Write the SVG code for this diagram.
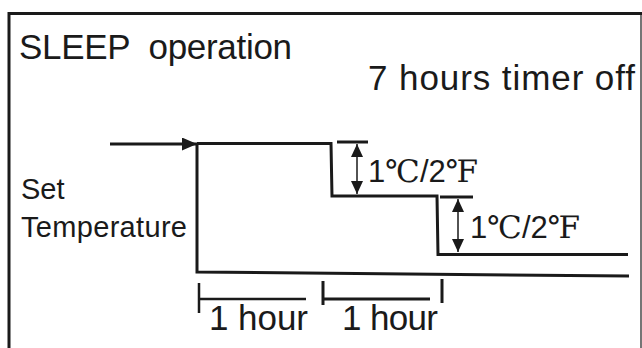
<svg xmlns="http://www.w3.org/2000/svg" width="642" height="348" viewBox="0 0 642 348">
<defs>
<marker id="ah" viewBox="0 0 13 12" refX="13" refY="6" markerWidth="13" markerHeight="12" markerUnits="userSpaceOnUse" orient="auto-start-reverse"><path d="M0,0 L13,6 L0,12 z" fill="#1a1a1a"/></marker>
<marker id="big" viewBox="0 0 15 13" refX="15" refY="6.5" markerWidth="15" markerHeight="13" markerUnits="userSpaceOnUse" orient="auto"><path d="M0,0 L15,6.5 L0,13 z" fill="#1a1a1a"/></marker>
</defs>
<style>
.t{font-family:"Liberation Sans",Arial,sans-serif;fill:#1a1a1a;white-space:pre}
.sym{font-family:"DejaVu Serif","Noto Sans CJK SC",serif}
.ln{stroke:#1a1a1a;stroke-width:3;fill:none}
.thin{stroke:#1a1a1a;stroke-width:1.5;fill:none}
</style>
<rect width="642" height="348" fill="#fff"/>
<g id="frame">
<path class="ln" d="M9,348 V13.5 H642"/>
<path stroke="#1a1a1a" stroke-width="1.2" d="M641,13 V348"/>
</g>
<g id="title"><text class="t" x="19" y="59" font-size="35" textLength="273" xml:space="preserve">SLEEP  operation</text></g>
<g id="timer"><text class="t" x="368" y="90" font-size="35" textLength="267">7 hours timer off</text></g>
<g id="setTemp"><text class="t" x="21" y="199" font-size="29">Set</text><text class="t" x="21" y="237" font-size="29" textLength="166">Temperature</text></g>
<g id="connectors">
<path class="ln" d="M110,144 H197" marker-end="url(#big)"/>
<path class="ln" d="M197,143.5 H331 L332,196 H437 L438,254.5 H628"/>
<path class="ln" d="M197,143 V272 L629,276"/>
<path class="ln" d="M337,142 H368"/>
<path class="thin" d="M357,144 V194" marker-start="url(#ah)" marker-end="url(#ah)"/>
<path class="ln" d="M440,197 H473"/>
<path class="thin" d="M458,199 V252" marker-start="url(#ah)" marker-end="url(#ah)"/>
<path stroke="#1a1a1a" stroke-width="2.5" d="M199,283 V313 M199,299 H306"/>
<path stroke="#1a1a1a" stroke-width="3" d="M323,281 V305 M323,299 H430 M442,279 V303"/>
</g>
<g id="label1"><text class="t" x="368" y="182" font-size="31">1<tspan class="sym">℃</tspan>/2<tspan class="sym">℉</tspan></text></g>
<g id="label2"><text class="t" x="470" y="238" font-size="31">1<tspan class="sym">℃</tspan>/2<tspan class="sym">℉</tspan></text></g>
<g id="hour1"><text class="t" x="209" y="330" font-size="35" textLength="99">1 hour</text></g>
<g id="hour2"><text class="t" x="342" y="330" font-size="35" textLength="96">1 hour</text></g>
</svg>
